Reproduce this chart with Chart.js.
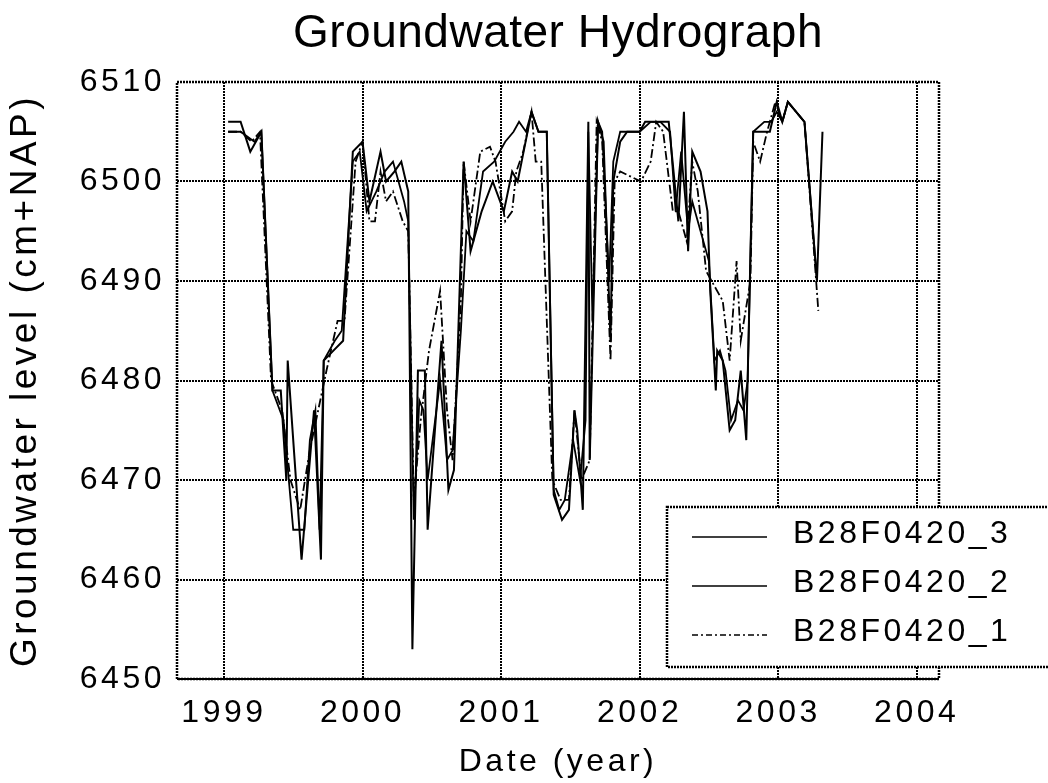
<!DOCTYPE html>
<html>
<head>
<meta charset="utf-8">
<title>Groundwater Hydrograph</title>
<script src="https://cdn.jsdelivr.net/npm/chart.js@4.4.1/dist/chart.umd.min.js"></script>
<style>
  html, body { margin: 0; padding: 0; background: #fff; }
</style>
</head>
<body>
<canvas id="hydro" width="1048" height="783"></canvas>
<script>
// Grondwaterstand B28F0420, drie filters, 1999-2003.

const TITLE = "Groundwater Hydrograph";
const X_LABEL = "Date (year)";
const Y_LABEL = "Groundwater level (cm+NAP)";
const YEAR_TICKS = [1999, 2000, 2001, 2002, 2003, 2004];
const LEVEL_TICKS = [6450, 6460, 6470, 6480, 6490, 6500, 6510];
const X_MIN = 1998.661;
const X_MAX = 2004.161;
const NAMES = ["B28F0420_3", "B28F0420_2", "B28F0420_1"];

const dates3 = [1999.03, 1999.12, 1999.19, 1999.27, 1999.35, 1999.41, 1999.45, 1999.46, 1999.56, 1999.65,
  1999.70, 1999.72, 1999.79, 1999.86, 1999.93, 2000.00, 2000.05, 2000.13, 2000.17, 2000.23,
  2000.28, 2000.33, 2000.36, 2000.40, 2000.45, 2000.47, 2000.57, 2000.62, 2000.66, 2000.73,
  2000.78, 2000.86, 2000.94, 2001.02, 2001.08, 2001.12, 2001.22, 2001.27, 2001.33, 2001.38,
  2001.44, 2001.49, 2001.53, 2001.55, 2001.59, 2001.63, 2001.64, 2001.70, 2001.74, 2001.79,
  2001.81, 2001.86, 2001.91, 2002.00, 2002.04, 2002.15, 2002.21, 2002.28, 2002.32, 2002.35,
  2002.38, 2002.44, 2002.49, 2002.51, 2002.55, 2002.56, 2002.60, 2002.65, 2002.69, 2002.73,
  2002.77, 2002.82, 2002.87, 2002.94, 2002.99, 2003.03, 2003.07, 2003.19, 2003.28, 2003.32];
const levels3 = [6506, 6506, 6503, 6505, 6479, 6479, 6470, 6482, 6462, 6477,
  6462, 6482, 6483, 6484, 6503, 6504, 6498, 6503, 6500, 6501,
  6502, 6499, 6453, 6481, 6481, 6465, 6484, 6469, 6471, 6502,
  6493, 6497, 6500, 6497, 6501, 6500, 6507, 6505, 6505, 6468.5,
  6466, 6467, 6477, 6475, 6467, 6506, 6472, 6506, 6504, 6484,
  6500, 6504, 6505, 6505, 6506, 6506, 6506, 6496, 6507, 6493,
  6503, 6501, 6497, 6489, 6479, 6483, 6482, 6475, 6476, 6481,
  6474, 6505, 6505, 6505, 6508, 6506, 6508, 6506, 6490, 6505];

const dates2 = [1999.03, 1999.12, 1999.22, 1999.27, 1999.35, 1999.43, 1999.50, 1999.58, 1999.62, 1999.66,
  1999.69, 1999.72, 1999.80, 1999.85, 1999.93, 1999.98, 2000.03, 2000.10, 2000.16, 2000.22,
  2000.30, 2000.33, 2000.37, 2000.41, 2000.44, 2000.47, 2000.56, 2000.61, 2000.65, 2000.71,
  2000.75, 2000.80, 2000.87, 2000.95, 2001.03, 2001.09, 2001.13, 2001.18, 2001.22, 2001.27,
  2001.33, 2001.38, 2001.42, 2001.46, 2001.52, 2001.57, 2001.61, 2001.63, 2001.66, 2001.70,
  2001.73, 2001.78, 2001.81, 2001.86, 2001.93, 2002.00, 2002.08, 2002.15, 2002.22, 2002.26,
  2002.30, 2002.35, 2002.38, 2002.44, 2002.50, 2002.54, 2002.58, 2002.62, 2002.66, 2002.71,
  2002.75, 2002.78, 2002.82, 2002.90, 2002.95, 2002.99, 2003.03, 2003.07, 2003.19, 2003.28];
const levels2 = [6505, 6505, 6504, 6505, 6479, 6476, 6465, 6465, 6474, 6477,
  6465, 6482, 6484, 6485, 6502, 6503, 6497, 6499, 6501, 6502,
  6498, 6496, 6466, 6478, 6477, 6470, 6480, 6472, 6473, 6485,
  6495, 6494, 6501, 6502, 6504, 6505, 6506, 6505, 6507, 6505,
  6505, 6469, 6467, 6468, 6474, 6470, 6476, 6505, 6486, 6506,
  6505, 6490, 6502, 6505, 6505, 6505, 6506, 6506, 6505, 6497,
  6503, 6495, 6498, 6495, 6492, 6482, 6483, 6481, 6476, 6478,
  6477, 6480, 6505, 6506, 6506, 6507, 6506, 6508, 6506, 6490];

const dates1 = [1999.03, 1999.12, 1999.20, 1999.26, 1999.34, 1999.42, 1999.48, 1999.55, 1999.62, 1999.68,
  1999.74, 1999.82, 1999.87, 1999.95, 2000.00, 2000.05, 2000.09, 2000.13, 2000.17, 2000.22,
  2000.29, 2000.33, 2000.37, 2000.42, 2000.48, 2000.56, 2000.61, 2000.65, 2000.71, 2000.73,
  2000.78, 2000.85, 2000.92, 2000.96, 2001.03, 2001.08, 2001.11, 2001.16, 2001.22, 2001.25,
  2001.29, 2001.37, 2001.43, 2001.49, 2001.53, 2001.58, 2001.64, 2001.69, 2001.73, 2001.79,
  2001.82, 2001.86, 2002.01, 2002.08, 2002.12, 2002.17, 2002.24, 2002.28, 2002.34, 2002.38,
  2002.42, 2002.48, 2002.60, 2002.65, 2002.70, 2002.73, 2002.80, 2002.82, 2002.87, 2002.92,
  2002.98, 2003.03, 2003.07, 2003.19, 2003.29];
const levels1 = [6505, 6505, 6504, 6505, 6480, 6477, 6470, 6467, 6473, 6477,
  6481, 6486, 6486, 6502, 6504, 6496, 6496, 6501, 6498, 6499,
  6496, 6495, 6468, 6476, 6483, 6489, 6477, 6472, 6488, 6502,
  6496, 6503, 6503.5, 6502, 6496, 6497, 6501, 6503, 6507, 6502,
  6502, 6470, 6468, 6468, 6477, 6470, 6472, 6506, 6504, 6482,
  6500, 6501, 6500, 6502, 6506, 6505, 6497, 6497, 6494, 6502,
  6499, 6491, 6488, 6482, 6492, 6484, 6490, 6504, 6502, 6505,
  6508, 6506, 6508, 6506, 6487];

const FONT = "'Liberation Sans', Arial, Helvetica, sans-serif";
const SPACING = "3.5px";
const DOTS = [2, 1];

const pts = (xs, ys) => xs.map((x, i) => ({ x, y: ys[i] }));

const series = [
  { label: NAMES[0], data: pts(dates3, levels3), width: 2, dash: [] },
  { label: NAMES[1], data: pts(dates2, levels2), width: 1.8, dash: [] },
  { label: NAMES[2], data: pts(dates1, levels1), width: 1.8, dash: [9, 3, 2, 3] },
];

// Kader om plotvlak, titel en legenda in de stijl van het origineel.
const framePlugin = {
  id: "frame",
  beforeDraw(chart) {
    chart.ctx.letterSpacing = SPACING;
  },
  afterDatasetsDraw(chart) {
    const { ctx, chartArea: a } = chart;
    ctx.save();
    ctx.strokeStyle = "#000";
    ctx.lineWidth = 2.5;
    ctx.setLineDash(DOTS);
    ctx.strokeRect(a.left, a.top, a.right - a.left, a.bottom - a.top);
    ctx.restore();
  },
  afterDraw(chart) {
    const { ctx, chartArea: a } = chart;
    ctx.save();
    // titel
    ctx.letterSpacing = "0.5px";
    ctx.fillStyle = "#000";
    ctx.font = `46px ${FONT}`;
    ctx.textAlign = "center";
    ctx.textBaseline = "middle";
    ctx.fillText(TITLE, (a.left + a.right) / 2, 34);

    // legenda
    const bx = a.right - 272, by = a.bottom - 172, bh = 160;
    ctx.fillStyle = "#fff";
    ctx.fillRect(bx, by, 400, bh);
    ctx.strokeStyle = "#000";
    ctx.lineWidth = 2.5;
    ctx.setLineDash(DOTS);
    ctx.strokeRect(bx, by, 400, bh);

    ctx.letterSpacing = SPACING;
    ctx.font = `32px ${FONT}`;
    ctx.textAlign = "left";
    series.forEach((s, i) => {
      const ly = by + 30 + i * 49;
      ctx.setLineDash(s.dash.length ? [6, 3, 2, 3] : []);
      ctx.lineWidth = 1.4;
      ctx.beginPath();
      ctx.moveTo(bx + 25, ly);
      ctx.lineTo(bx + 100, ly);
      ctx.stroke();
      ctx.fillStyle = "#000";
      ctx.fillText(s.label, bx + 126, ly - 3);
    });
    ctx.restore();
  },
};

const tickFont = { family: FONT, size: 32 };

new Chart(document.getElementById("hydro"), {
  type: "line",
  data: {
    datasets: series.map((s) => ({
      label: s.label,
      data: s.data,
      borderColor: "#000",
      borderWidth: s.width,
      borderDash: s.dash,
      pointRadius: 0,
      tension: 0,
      fill: false,
    })),
  },
  options: {
    responsive: false,
    animation: false,
    devicePixelRatio: 1,
    layout: { padding: { top: 82, right: 109, bottom: 0, left: 0 } },
    plugins: { legend: { display: false }, title: { display: false }, tooltip: { enabled: false } },
    scales: {
      x: {
        type: "linear",
        min: X_MIN,
        max: X_MAX,
        afterBuildTicks: (s) => { s.ticks = YEAR_TICKS.map((v) => ({ value: v })); },
        afterFit: (s) => { s.height = 104; },
        grid: { color: "#000", lineWidth: 2, drawTicks: false },
        border: { display: false, dash: DOTS },
        ticks: { color: "#000", font: tickFont, padding: 15, maxRotation: 0, autoSkip: false, callback: (v) => String(v) },
        title: { display: true, text: X_LABEL, color: "#000", font: tickFont, padding: { top: 0, bottom: 2 } },
      },
      y: {
        min: 6450,
        max: 6510,
        afterBuildTicks: (s) => { s.ticks = LEVEL_TICKS.map((v) => ({ value: v })); },
        afterFit: (s) => { s.width = 177; },
        grid: { color: "#000", lineWidth: 2, drawTicks: false },
        border: { display: false, dash: DOTS },
        ticks: { color: "#000", font: tickFont, padding: 12, callback: (v) => String(v) },
        title: { display: true, text: Y_LABEL, color: "#000", font: { family: FONT, size: 37 }, padding: { top: 4, bottom: 0 } },
      },
    },
  },
  plugins: [framePlugin],
});
</script>
</body>
</html>
